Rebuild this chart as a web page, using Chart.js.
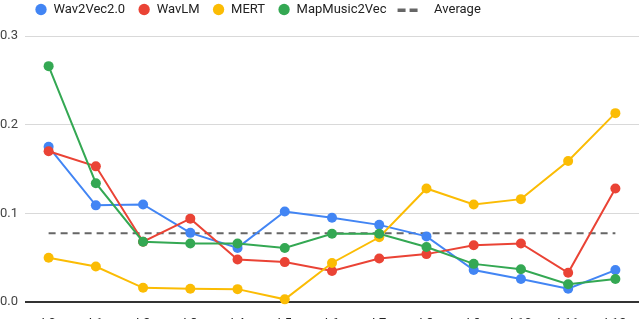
<!DOCTYPE html>
<html lang="en">
<head>
    <meta charset="UTF-8">
    <title>Layer-wise scores</title>
    <script src="https://cdn.jsdelivr.net/npm/chart.js"></script>
    <style>
        html, body {
            margin: 0;
            padding: 0;
            overflow: hidden;
            background: #fff;
        }
        #wrap {
            width: 640px;
            height: 324px;
        }
    </style>
</head>
<body>
    <div id="wrap"><canvas id="layerChart"></canvas></div>

    <script>
        const layers = ['L0', 'L1', 'L2', 'L3', 'L4', 'L5', 'L6', 'L7', 'L8', 'L9', 'L10', 'L11', 'L12'];

        const wav2vec = [0.175, 0.109, 0.110, 0.078, 0.061, 0.102, 0.095, 0.087, 0.074, 0.036, 0.026, 0.015, 0.036];
        const wavlm = [0.170, 0.153, 0.068, 0.094, 0.048, 0.045, 0.035, 0.049, 0.054, 0.064, 0.066, 0.033, 0.128];
        const mert = [0.050, 0.040, 0.016, 0.015, 0.0145, 0.003, 0.044, 0.073, 0.128, 0.110, 0.116, 0.159, 0.213];
        const mapmusic = [0.266, 0.134, 0.068, 0.066, 0.066, 0.061, 0.077, 0.077, 0.062, 0.043, 0.037, 0.020, 0.026];
        const average = [0.0775, 0.0775, 0.0775, 0.0775, 0.0775, 0.0775, 0.0775, 0.0775, 0.0775, 0.0775, 0.0775, 0.0775, 0.0775];

        const yTicks = [0, 0.1, 0.2, 0.3];

        // dashed legend symbol for the average line (wide canvas, dashes right of centre)
        const dashIcon = document.createElement('canvas');
        dashIcon.width = 40;
        dashIcon.height = 4;
        const dctx = dashIcon.getContext('2d');
        dctx.fillStyle = '#666';
        dctx.fillRect(12, 1, 8, 3);
        dctx.fillRect(24, 1, 8, 3);

        function series(label, data, color, order) {
            return {
                label: label,
                data: data,
                borderColor: color,
                backgroundColor: color,
                pointBackgroundColor: color,
                pointBorderWidth: 0,
                pointRadius: 5,
                borderWidth: 2,
                tension: 0,
                clip: false,
                order: order
            };
        }

        // pull the legend row up without changing the plot area
        const liftLegend = {
            id: 'liftLegend',
            afterLayout(chart) {
                const lg = chart.legend;
                lg.top -= 10;
                lg.bottom -= 10;
                lg.left -= 3;
                lg.right -= 3;
            }
        };

        const ctx = document.getElementById('layerChart').getContext('2d');
        const layerChart = new Chart(ctx, {
            type: 'line',
            data: {
                labels: layers,
                datasets: [
                    series('Wav2Vec2.0', wav2vec, '#4285F4', 4),
                    series('WavLM', wavlm, '#EA4335', 3),
                    series('MERT', mert, '#FBBC04', 2),
                    series('MapMusic2Vec', mapmusic, '#34A853', 1),
                    {
                        label: 'Average',
                        data: average,
                        borderColor: '#666',
                        backgroundColor: '#666',
                        borderWidth: 2,
                        borderDash: [7, 5],
                        pointRadius: 0,
                        pointStyle: dashIcon,
                        order: 5
                    }
                ]
            },
            plugins: [liftLegend],
            options: {
                responsive: true,
                maintainAspectRatio: false,
                animation: false,
                events: [],
                layout: { padding: { right: 1 }, autoPadding: false },
                plugins: {
                    tooltip: { enabled: false },
                    legend: {
                        position: 'top',
                        align: 'start',
                        fullSize: false,
                        labels: {
                            usePointStyle: true,
                            boxWidth: 12,
                            boxHeight: 8,
                            padding: 13,
                            color: '#222',
                            font: { family: 'Roboto', size: 13 },
                            sort: (a, b) => a.datasetIndex - b.datasetIndex,
                            generateLabels: (chart) => {
                                const items = Chart.defaults.plugins.legend.labels.generateLabels(chart);
                                items.forEach(it => {
                                    if (it.text === 'Average') it.text = '     Average';
                                });
                                return items;
                            }
                        }
                    }
                },
                scales: {
                    x: {
                        offset: true,
                        grid: { display: false },
                        border: { display: false },
                        ticks: {
                            color: '#222',
                            padding: 6,
                            font: { family: 'Roboto', size: 13 }
                        },
                        afterFit: (axis) => {
                            axis.height = 22;
                            axis.paddingLeft = 0;
                            axis.paddingRight = 0;
                        }
                    },
                    y: {
                        min: 0,
                        max: 0.3,
                        afterBuildTicks: (axis) => {
                            axis.ticks = yTicks.map(v => ({ value: v }));
                        },
                        afterFit: (axis) => {
                            axis.width = 25;
                        },
                        border: { display: false },
                        grid: {
                            drawTicks: false,
                            color: (c) => c.tick && c.tick.value === 0 ? '#333' : '#d9d9d9',
                            lineWidth: (c) => c.tick && c.tick.value === 0 ? 2 : 1
                        },
                        ticks: {
                            color: '#444',
                            padding: 7,
                            font: { family: 'Roboto', size: 13 },
                            callback: (v) => Number(v).toFixed(1)
                        }
                    }
                }
            }
        });
    </script>
</body>
</html>
